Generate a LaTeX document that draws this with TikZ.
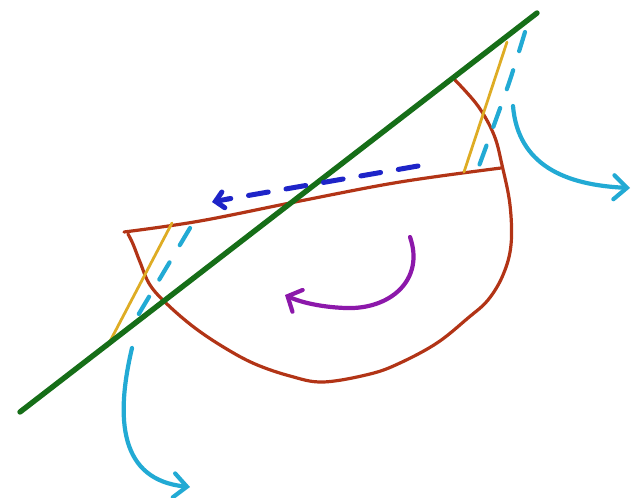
\documentclass[tikz,border=0pt]{standalone}
\usetikzlibrary{arrows.meta}
\definecolor{sgreen}{RGB}{22,110,24}
\definecolor{sred}{RGB}{178,52,22}
\definecolor{syellow}{RGB}{222,172,36}
\definecolor{scyan}{RGB}{34,170,212}
\definecolor{sblue}{RGB}{30,36,200}
\definecolor{spurple}{RGB}{140,24,170}
\tikzset{
  pen/.style={line cap=round,line join=round},
  greenline/.style={pen,draw=sgreen,line width=5.4pt},
  redline/.style={pen,draw=sred,line width=3.2pt},
  yellowline/.style={pen,draw=syellow,line width=2.8pt},
  cyandash/.style={pen,draw=scyan,line width=4.2pt,dash pattern=on 20pt off 20pt},
  cyanarrow/.style={pen,draw=scyan,line width=4.2pt,-{Straight Barb[length=13pt,width=24pt,line cap=round]}},
  bluedash/.style={pen,draw=sblue,line width=5pt,dash pattern=on 20pt off 18pt},
  purplearrow/.style={pen,draw=spurple,line width=4.2pt,-{Straight Barb[length=11pt,width=24pt,line cap=round]}}
}
\begin{document}
\begin{tikzpicture}[x=1pt,y=-1pt]
\useasboundingbox (0,0) rectangle (638,498);
% named points
\coordinate (gA) at (20,412);
\coordinate (gB) at (537,13);
\coordinate (chL) at (124,232);
\coordinate (chR) at (501,168);
% red semicircle-like shape
\draw[redline] plot[smooth,tension=0.6] coordinates {(chL) (200,221) (300,201) (400,182) (chR)};
\draw[redline] plot[smooth,tension=0.6] coordinates {(455,80) (478,106) (494,135) (502,165) (510,205) (511,245) (503,275) (488,300) (468,318) (437,343) (400,363) (370,374) (323,382) (290,376) (255,364) (225,348) (195,328) (168,305) (150,285) (140,262) (133,244) (128,234)};
% yellow lines
\draw[yellowline] (507,42) -- (464,172);
\draw[yellowline] (172,223) -- (107,347);
% cyan dashed
\draw[cyandash] plot[smooth] coordinates {(525,32) (510,80) (494,125) (479,166)};
\draw[cyandash] (190,228) -- (134,322);
% green line
\draw[greenline] (gA) -- (gB);
% blue dashed arrow
\draw[bluedash] (418,166) -- (228,199);
\draw[sblue,line width=5pt,-{Straight Barb[length=8pt,width=16pt,line cap=round]},pen] (228,199) -- (212,202);
% cyan arrows
\draw[cyanarrow] (513,106) .. controls (518,165) and (565,185) .. (630,188);
\draw[cyanarrow] (132,348) .. controls (115,420) and (120,480) .. (190,487);
% purple arrow
\draw[purplearrow] (410,237) .. controls (425,280) and (390,310) .. (345,308) .. controls (320,307) and (300,302) .. (285,295);
\end{tikzpicture}
\end{document}
